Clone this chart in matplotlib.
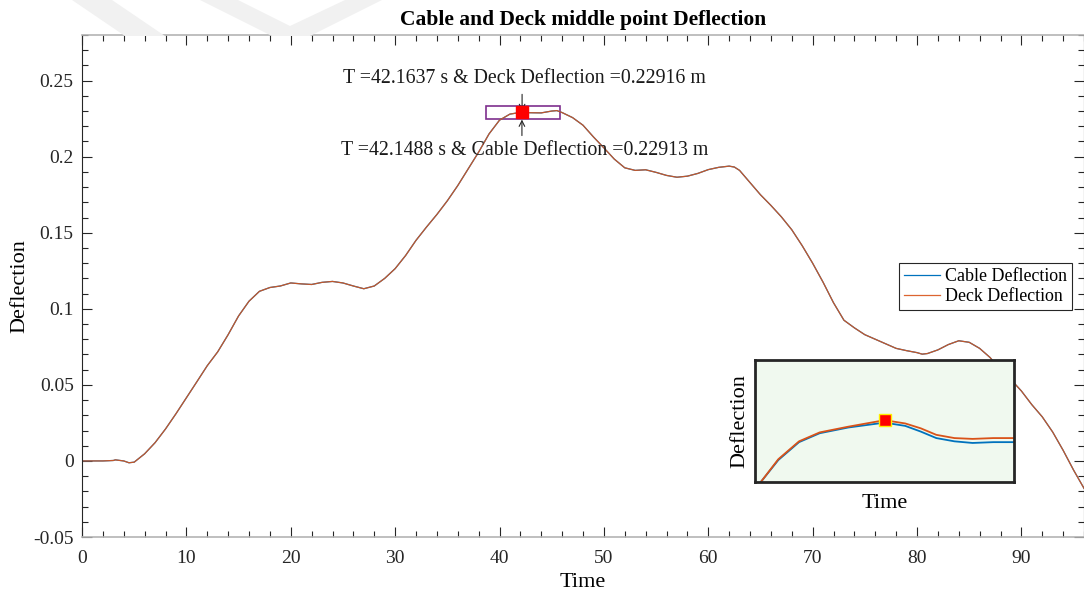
import matplotlib
matplotlib.use("Agg")
import matplotlib.pyplot as plt
from matplotlib.patches import Rectangle, Polygon
from matplotlib.ticker import MultipleLocator

plt.rcParams['font.family'] = ['Liberation Serif', 'DejaVu Serif']

# ---------------- data ----------------
time = [0, 1, 2, 3, 3.2, 4, 4.5, 5, 6, 7, 8, 9, 10, 11, 12, 13, 14, 15, 16, 17, 18, 19,
        20, 21, 22, 23, 24, 25, 26, 27, 28, 29, 30, 31, 32, 33, 34, 35, 36, 37, 38, 39,
        40, 41, 42, 43, 44, 45, 45.5, 46, 47, 48, 49, 50, 51, 52, 53, 54, 55, 56, 57,
        58, 59, 60, 61, 62, 62.5, 63, 64, 65, 66, 67, 68, 69, 70, 71, 72, 73, 74, 75, 76,
        77, 78, 79, 80, 80.5, 81, 82, 83, 84, 85, 86, 87, 88, 89, 90, 91, 92, 93, 94,
        95, 96]
deck_defl = [0.0, 0.0, 0.0, 0.0003, 0.0007, 0.0, -0.0012, -0.0008, 0.0047, 0.012, 0.021,
             0.031, 0.0415, 0.052, 0.0626, 0.0717, 0.083, 0.0953, 0.105, 0.1115, 0.114,
             0.115, 0.117, 0.1164, 0.116, 0.1174, 0.118, 0.117, 0.115, 0.1132, 0.115,
             0.120, 0.1264, 0.135, 0.145, 0.1537, 0.162, 0.171, 0.181, 0.192, 0.203,
             0.215, 0.2240, 0.228, 0.2291, 0.2289, 0.2288, 0.2300, 0.2303, 0.229, 0.2257,
             0.2207, 0.213, 0.2058, 0.1984, 0.1927, 0.191, 0.1914, 0.1897, 0.1877,
             0.1865, 0.1872, 0.189, 0.1915, 0.193, 0.1938, 0.1932, 0.1910, 0.1830, 0.175,
             0.168, 0.1605, 0.152, 0.1415, 0.130, 0.1175, 0.104, 0.0925, 0.0875, 0.083,
             0.080, 0.077, 0.074, 0.0725, 0.0712, 0.0702, 0.0706, 0.073, 0.0765, 0.079,
             0.078, 0.074, 0.068, 0.060, 0.0535, 0.046, 0.037, 0.029, 0.019, 0.007,
             -0.006, -0.018]
cable_defl = [0.0, 0.0, 0.0, 0.0003, 0.0007, 0.0, -0.0012, -0.0008, 0.0047, 0.012, 0.021,
              0.031, 0.0415, 0.052, 0.0626, 0.0717, 0.083, 0.0953, 0.105, 0.1115, 0.114,
              0.115, 0.117, 0.1164, 0.116, 0.1174, 0.118, 0.117, 0.115, 0.1132, 0.115,
              0.120, 0.1264, 0.135, 0.145, 0.1537, 0.162, 0.171, 0.181, 0.192, 0.203,
              0.215, 0.2240, 0.228, 0.2291, 0.2289, 0.2288, 0.2300, 0.2303, 0.229, 0.2257,
              0.2207, 0.213, 0.2058, 0.1984, 0.1927, 0.191, 0.1914, 0.1897, 0.1877,
              0.1865, 0.1872, 0.189, 0.1915, 0.193, 0.1938, 0.1932, 0.1910, 0.1830, 0.175,
              0.168, 0.1605, 0.152, 0.1415, 0.130, 0.1175, 0.104, 0.0925, 0.0875, 0.083,
              0.080, 0.077, 0.074, 0.0725, 0.0712, 0.0702, 0.0706, 0.073, 0.0765, 0.079,
              0.078, 0.074, 0.068, 0.060, 0.0535, 0.046, 0.037, 0.029, 0.019, 0.007,
              -0.006, -0.018]

deck_peak_t, deck_peak_v = 42.1637, 0.22916
cable_peak_t, cable_peak_v = 42.1488, 0.22913

# zoomed detail (inset)
inset_time = [41.68, 41.75, 41.83, 41.91, 42.02, 42.16, 42.24, 42.30, 42.36, 42.43, 42.50, 42.58, 42.66]
inset_deck = [0.22839, 0.22868, 0.22890, 0.22901, 0.22908, 0.22916, 0.22912, 0.22906,
              0.22898, 0.22894, 0.22893, 0.22894, 0.22894]
inset_cable = [0.22839, 0.22867, 0.22889, 0.22900, 0.22907, 0.22913, 0.22909, 0.22902,
               0.22894, 0.22890, 0.22888, 0.22889, 0.22889]

# ---------------- figure ----------------
W, H = 1084, 594
fig = plt.figure(figsize=(W / 100, H / 100), dpi=100)

# faint watermark chevrons
wm = '#f1f1f1'
for pts in ([(72, 0), (112, 0), (165, 36), (125, 36)],
            [(200, 0), (238, 0), (290, 26), (345, 0), (382, 0), (310, 36), (272, 36)]):
    fig.patches.append(Polygon([(x / W, 1 - y / H) for x, y in pts], closed=True,
                               transform=fig.transFigure, facecolor=wm, edgecolor='none',
                               zorder=0))

ax = fig.add_axes([82 / W, 1 - 537 / H, (1084 - 82) / W, (537 - 35) / H])
ax.set_facecolor('none')

cable_line, = ax.plot(time, cable_defl, color='#0072bd', lw=0.9, label='Cable Deflection')
deck_line, = ax.plot(time, deck_defl, color='#d95319', lw=0.9, label='Deck Deflection', alpha=0.9)

ax.set_xlim(0, 96)
ax.set_ylim(-0.05, 0.28)
ax.xaxis.set_major_locator(MultipleLocator(10))
ax.xaxis.set_minor_locator(MultipleLocator(2))
ax.yaxis.set_major_locator(MultipleLocator(0.05))
ax.yaxis.set_minor_locator(MultipleLocator(0.01))
ax.set_yticks([-0.05, 0, 0.05, 0.1, 0.15, 0.2, 0.25])
ax.set_yticklabels(['-0.05', '0', '0.05', '0.1', '0.15', '0.2', '0.25'])
ax.tick_params(which='both', direction='in', top=True, right=True, colors='#262626',
               labelsize=14)
ax.tick_params(which='major', length=7.5, width=0.8)
ax.tick_params(axis='y', which='major', pad=6)
ax.tick_params(axis='x', which='major', pad=9.5)
ax.tick_params(which='minor', length=4, width=0.8)
for s in ('top', 'bottom'):
    ax.spines[s].set_color('#b4b4b4')
    ax.spines[s].set_linewidth(1.2)
ax.spines['left'].set_color('#262626')
ax.spines['right'].set_color('#262626')

ax.set_title('Cable and Deck middle point Deflection', fontsize=15.5, fontweight='bold', pad=7)
ax.set_xlabel('Time', fontsize=16, labelpad=4)
ax.set_ylabel('Deflection', fontsize=16, labelpad=3)

# highlight box, marker, arrows and texts
ax.add_patch(Rectangle((38.7, 0.2245), 7.1, 0.0087, fill=False, edgecolor='#7e2f8e', lw=1.2))
ax.plot([deck_peak_t], [deck_peak_v], 's', color='red', ms=8.5, mec='red', zorder=5)
ax.annotate('', xy=(deck_peak_t, 0.2300), xytext=(deck_peak_t, 0.2410),
            arrowprops=dict(arrowstyle='->', color='#262626', lw=0.8, shrinkA=0, shrinkB=0))
ax.annotate('', xy=(cable_peak_t, 0.2244), xytext=(cable_peak_t, 0.2139),
            arrowprops=dict(arrowstyle='->', color='#262626', lw=0.8, shrinkA=0, shrinkB=0))
ax.text(42.4, 0.2513, f'T ={deck_peak_t:.4f} s & Deck Deflection ={deck_peak_v:.5f} m',
        ha='center', va='center', fontsize=14.3, color='#1a1a1a')
ax.text(42.4, 0.2041, f'T ={cable_peak_t:.4f} s & Cable Deflection ={cable_peak_v:.5f} m',
        ha='center', va='center', fontsize=14.3, color='#1a1a1a')

leg = ax.legend(handles=[cable_line, deck_line], loc='upper right',
                bbox_to_anchor=(0.988, 0.546), borderaxespad=0, fontsize=12.9,
                fancybox=False, framealpha=1, edgecolor='#262626', handlelength=2.0,
                handletextpad=0.25, borderpad=0.3, labelspacing=0.15)
leg.get_frame().set_linewidth(0.8)

# inset
axi = fig.add_axes([755 / W, 1 - 482 / H, (1014 - 755) / W, (482 - 360) / H])
axi.set_facecolor('#f0f9ef')
axi.plot(inset_time, inset_cable, color='#0072bd', lw=1.3)
axi.plot(inset_time, inset_deck, color='#d95319', lw=1.3)
axi.plot([deck_peak_t], [deck_peak_v], 's', color='red', ms=8, mec='#ffee00', mew=1)
axi.set_xlim(41.66, 42.66)
axi.set_ylim(0.2284, 0.2299)
axi.set_xticks([])
axi.set_yticks([])
for s in axi.spines.values():
    s.set_linewidth(2)
    s.set_color('#262626')
axi.set_xlabel('Time', fontsize=16, labelpad=9)
axi.set_ylabel('Deflection', fontsize=16, labelpad=4)

fig.savefig('out.png', dpi=100)
